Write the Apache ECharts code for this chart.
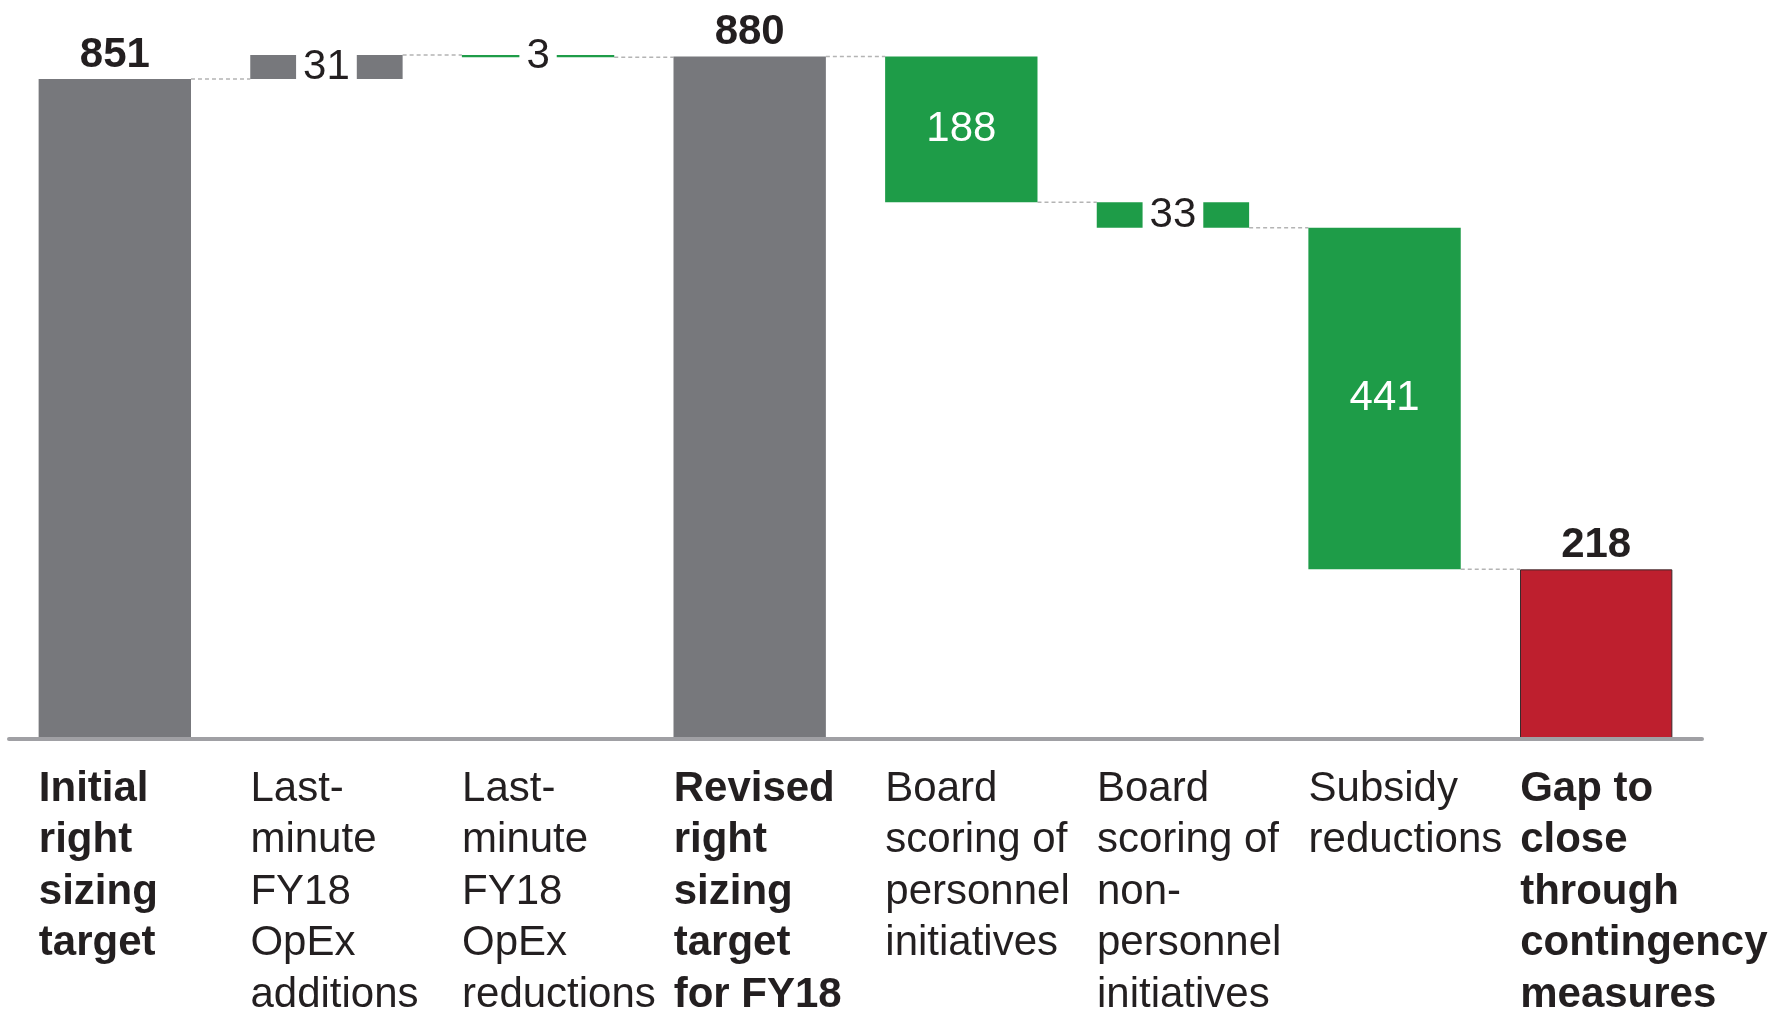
<!DOCTYPE html>
<html>
<head>
<meta charset="utf-8">
<title>FY18 right sizing waterfall</title>
<script src="https://cdn.jsdelivr.net/npm/echarts@6/dist/echarts.min.js"></script>
<style>
  html, body { margin: 0; padding: 0; background: #fff; }
  #fy18_waterfall { width: 1788px; height: 1016px; }
</style>
</head>
<body>
<div id="fy18_waterfall"></div>
<script>
// Chart data
// ------------------------------

var categories = [
  "Initial\nright\nsizing\ntarget",
  "Last-\nminute\nFY18\nOpEx\nadditions",
  "Last-\nminute\nFY18\nOpEx\nreductions",
  "Revised\nright\nsizing\ntarget\nfor FY18",
  "Board\nscoring of\npersonnel\ninitiatives",
  "Board\nscoring of\nnon-\npersonnel\ninitiatives",
  "Subsidy\nreductions",
  "Gap to\nclose\nthrough\ncontingency\nmeasures"
];

// signed steps, totals are absolute levels
var stepValues = [851, 31, -3, 880, -188, -33, -441, 218];

// "total" = bar from zero, "step" = floating change, "gap" = final total
var stepKinds = ["total", "step", "step", "total", "step", "step", "step", "gap"];

// Setup module
// ------------------------------

var fy18Waterfall = (function () {

  var BAR_RATIO = 0.72;
  var FONT = "'Liberation Sans', Arial, Helvetica, sans-serif";
  var TEXT_COLOR = "#231f20";

  var fy18WaterfallChart = function () {
    if (typeof echarts == "undefined") {
      console.warn("Warning - echarts.min.js is not loaded.");
      return;
    }

    var waterfall_element = document.getElementById("fy18_waterfall");
    if (!waterfall_element) return;

    //
    // Build invisible base + visible part of each bar
    //

    var baseData = [];
    var barData = [];
    var connectorData = [];
    var running = 0;

    stepValues.forEach(function (v, i) {
      var kind = stepKinds[i];
      var base, height, color;

      if (kind !== "step") {
        base = 0;
        height = v;
        running = v;
        color = kind === "gap" ? "#be1f2e" : "#77787c";
      } else if (v >= 0) {
        base = running;
        height = v;
        running += v;
        color = "#77787c";
      } else {
        running += v;
        base = running;
        height = -v;
        color = "#1e9c48";
      }

      var label;
      if (kind !== "step") {
        label = { position: "top", distance: 3, fontWeight: "bold", color: TEXT_COLOR };
      } else if (height < 60) {
        label = { position: "inside", color: TEXT_COLOR, backgroundColor: "#fff", padding: [0, 7] };
      } else {
        label = { position: "inside", color: "#fff" };
      }

      baseData.push(base);
      barData.push({
        value: height,
        itemStyle: {
          color: color,
          borderColor: kind === "gap" ? "#3a2a2c" : color,
          borderWidth: kind === "gap" ? 1 : 0
        },
        label: label
      });

      if (i < stepValues.length - 1) {
        connectorData.push([i, running]);
      }
    });

    var waterfall = echarts.init(waterfall_element);

    waterfall.setOption({
      animation: false,
      textStyle: { fontFamily: FONT },

      grid: { left: 9, right: 86, top: 41, bottom: 275, containLabel: false },

      xAxis: {
        type: "category",
        data: categories,
        z: 5,
        axisLine: { lineStyle: { color: "#a0a0a4", width: 4 } },
        axisTick: { show: false },
        axisLabel: {
          interval: 0,
          margin: 25,
          formatter: function (value, idx) {
            var style = stepKinds[idx] === "step" ? "r" : "b";
            return value.split("\n").map(function (line) {
              return "{" + style + "|" + line + "}";
            }).join("\n");
          },
          rich: {
            r: { width: 152, align: "left", fontSize: 42, lineHeight: 51.5, color: TEXT_COLOR, fontFamily: FONT },
            b: { width: 152, align: "left", fontSize: 42, lineHeight: 51.5, color: TEXT_COLOR, fontFamily: FONT, fontWeight: "bold" }
          }
        }
      },

      yAxis: {
        type: "value",
        min: 0,
        max: 900,
        show: false,
        splitLine: { show: false }
      },

      series: [
        // Dashed connectors between neighbouring bars
        {
          type: "custom",
          z: 1,
          silent: true,
          data: connectorData,
          renderItem: function (params, api) {
            var idx = api.value(0);
            var level = api.value(1);
            var p1 = api.coord([idx, level]);
            var p2 = api.coord([idx + 1, level]);
            var half = api.size([1, 0])[0] * BAR_RATIO / 2;
            return {
              type: "line",
              shape: { x1: p1[0] + half, y1: p1[1], x2: p2[0] - half, y2: p2[1] },
              style: { stroke: "#b4b4b4", lineWidth: 1.5, lineDash: [4, 3] }
            };
          }
        },
        {
          name: "base",
          type: "bar",
          stack: "waterfall",
          barWidth: BAR_RATIO * 100 + "%",
          silent: true,
          itemStyle: { color: "transparent" },
          data: baseData
        },
        {
          name: "value",
          type: "bar",
          stack: "waterfall",
          barWidth: BAR_RATIO * 100 + "%",
          z: 3,
          silent: true,
          label: {
            show: true,
            fontSize: 42,
            fontFamily: FONT,
            formatter: function (p) {
              return String(Math.abs(stepValues[p.dataIndex]));
            }
          },
          data: barData
        }
      ]
    });

    // Resize
    window.addEventListener("resize", function () {
      waterfall.resize();
    });
  };

  return {
    init: function () {
      fy18WaterfallChart();
    }
  };
})();

// Initialize module
// ------------------------------

document.addEventListener("DOMContentLoaded", function () {
  fy18Waterfall.init();
});
</script>
</body>
</html>
